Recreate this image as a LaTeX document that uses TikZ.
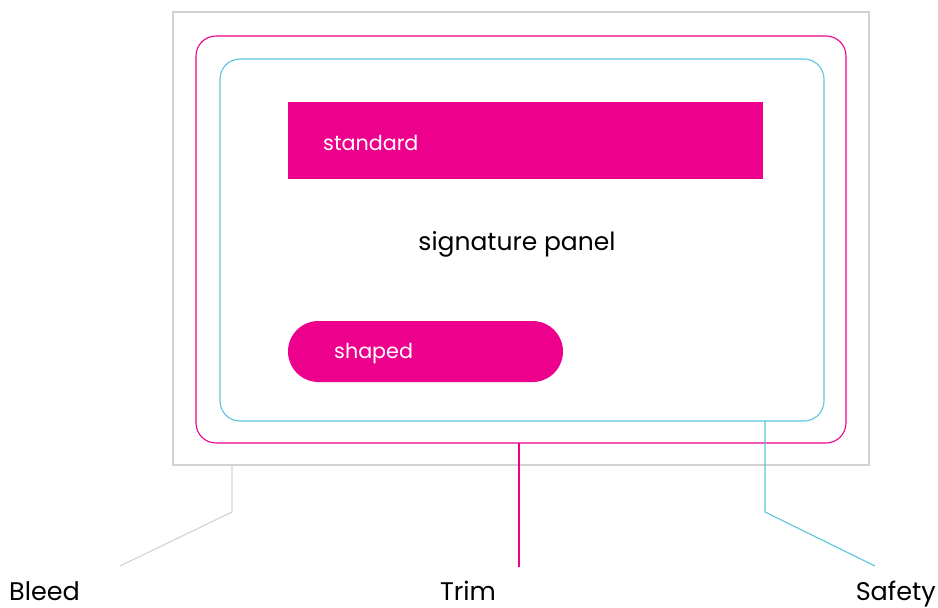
\documentclass[tikz,border=0pt]{standalone}
\usepackage{fontspec}
\setmainfont{Poppins}
\definecolor{mag}{HTML}{EC008C}
\definecolor{cy}{HTML}{5BC5DE}
\definecolor{gr}{HTML}{D2D2D2}
\begin{document}
\begin{tikzpicture}[x=1pt,y=-1pt,
  lbl/.style={font=\fontsize{25.5}{28}\selectfont, text=black, inner sep=0pt},
  intext/.style={font=\fontsize{20.7}{24}\selectfont, text=white, inner sep=0pt, anchor=west},
  bleedline/.style={draw=gr, line width=1.1pt},
  trimline/.style={draw=mag, line width=1.1pt},
  safeline/.style={draw=cy, line width=1.1pt}]
\useasboundingbox (0,0) rectangle (938,608);
% boxes
\draw[bleedline] (173,12) rectangle (869,465);
\draw[trimline, rounded corners=20pt] (196,36) rectangle (846,443);
\draw[safeline, rounded corners=20pt] (220,59) rectangle (824,421);
\fill[mag] (288,102) rectangle (763,179);
\fill[mag, rounded corners=30.5pt] (288,321) rectangle (563,382);
\node[intext] (std) at (323,143) {standard};
\node[intext] (shp) at (334,354) {shaped};
\node[lbl, font=\fontsize{25}{28}\selectfont] (sig) at (517,244) {signature panel};
% labels
\node[lbl, anchor=base west] (bleed) at (9,600.5) {Bleed};
\node[lbl, anchor=base] (trim) at (468,600.5) {Trim};
\node[lbl, anchor=base east] (safety) at (936,600.5) {Safety};
\coordinate (b0) at (232,465);
\coordinate (b1) at (232,512);
\coordinate (b2) at (120,566);
\coordinate (t0) at (519,443);
\coordinate (t1) at (519,567);
\coordinate (s0) at (765,421);
\coordinate (s1) at (765,512);
\coordinate (s2) at (875,566);
\draw[bleedline] (b0) -- (b1) -- (b2);
\draw[trimline] (t0) -- (t1);
\draw[safeline] (s0) -- (s1) -- (s2);
\end{tikzpicture}
\end{document}
